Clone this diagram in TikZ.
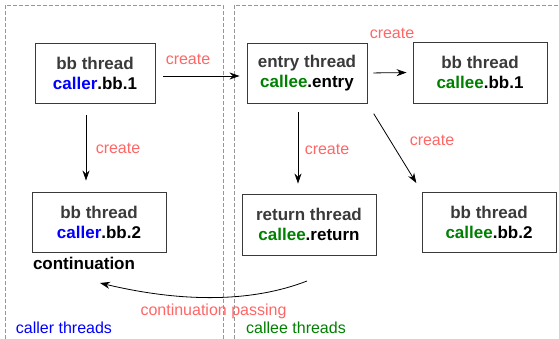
\documentclass[tikz,border=0pt]{standalone}
\usepackage{fontspec}
\setmainfont{Liberation Sans}
\usetikzlibrary{arrows.meta}
\definecolor{callerblue}{RGB}{0,0,255}
\definecolor{calleegreen}{RGB}{0,128,0}
\definecolor{createred}{RGB}{255,102,102}
\definecolor{boxgray}{RGB}{58,58,58}
\definecolor{lanegray}{RGB}{150,150,150}
\tikzset{
	threadnode/.style={rectangle, draw=boxgray, line width=0.9pt, text=boxgray, font=\fontsize{17}{20}\selectfont\bfseries, align=center, minimum height=60pt},
	createlabel/.style={text=createred, font=\fontsize{16}{20}\selectfont, inner sep=0pt},
	createarrow/.style={-{Stealth[length=10pt,width=7pt]}, line width=0.8pt},
	lane/.style={draw=lanegray, line width=0.7pt, dash pattern=on 4pt off 2pt}
}
\begin{document}
\begin{tikzpicture}[x=1pt,y=-1pt]
			\useasboundingbox (0,0) rectangle (559,339);
			\draw[lane] (5,339) -- (5,5) -- (223,5) -- (223,339);
			\draw[lane] (234,339) -- (234,5) -- (559,5);

			\node[threadnode, minimum width=120pt] (callerbb1) at (95,73) {bb thread\\\textcolor{callerblue}{caller}\textcolor{black}{.bb.1}};
			\node[threadnode, minimum width=120pt] (entry) at (307,73) {entry thread\\\textcolor{calleegreen}{callee}\textcolor{black}{.entry}};
			\node[threadnode, minimum width=134pt, minimum height=61pt] (calleebb1) at (480,72.5) {bb thread\\\textcolor{calleegreen}{callee}\textcolor{black}{.bb.1}};
			\node[threadnode, minimum width=134pt] (callerbb2) at (99,222) {bb thread\\\textcolor{callerblue}{caller}\textcolor{black}{.bb.2}};
			\node[threadnode, minimum width=134pt, minimum height=61pt] (ret) at (309,224.5) {return thread\\\textcolor{calleegreen}{callee}\textcolor{black}{.return}};
			\node[threadnode, minimum width=134pt] (calleebb2) at (489,222) {bb thread\\\textcolor{calleegreen}{callee}\textcolor{black}{.bb.2}};

			\node[font=\fontsize{17}{20}\selectfont\bfseries, inner sep=0pt] (cont) at (84,263) {continuation};
			\node[text=callerblue, font=\fontsize{16}{20}\selectfont, inner sep=0pt] (callerlane) at (64,328) {caller threads};
			\node[text=calleegreen, font=\fontsize{16}{20}\selectfont, inner sep=0pt] (calleelane) at (296,328) {callee threads};

			\draw[createarrow, shorten <=8pt, shorten >=7pt] ([yshift=-3pt]callerbb1.east) -- ([yshift=-3pt]entry.west);
			\draw[createarrow, shorten <=6pt, shorten >=6pt] (entry.east) -- (calleebb1.west);
			\draw[createarrow, shorten <=12pt, shorten >=11pt] ([xshift=-9pt]callerbb1.south) -- ([xshift=-9pt]callerbb1.south |- callerbb2.north);
			\draw[createarrow, shorten <=9pt, shorten >=10pt] ([xshift=-9pt]entry.south) -- ([xshift=-9pt]entry.south |- ret.north);
			\draw[createarrow, shorten <=12pt, shorten >=10pt] (entry.south east) -- (calleebb2.north west);

			\node[createlabel] (create1) at (188,59) {create};
			\node[createlabel] (create2) at (392,33) {create};
			\node[createlabel] (create3) at (118,148) {create};
			\node[createlabel] (create4) at (327,149) {create};
			\node[createlabel] (create5) at (432,140) {create};

			\coordinate (cpstart) at (307,281);
			\coordinate (cpend) at (100,283);
			\draw[createarrow] (cpstart) .. controls (253,302) and (184,303) .. (cpend);
			\node[createlabel] (cplabel) at (213.5,311) {continuation passing};
		\end{tikzpicture}
\end{document}
